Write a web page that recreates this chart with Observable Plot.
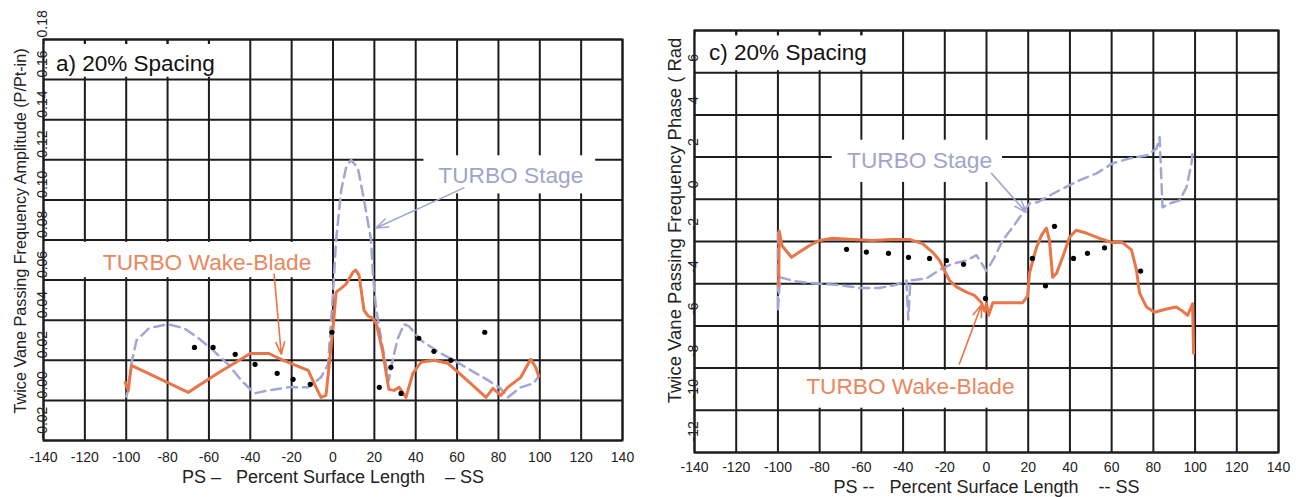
<!DOCTYPE html>
<html>
<head>
<meta charset="utf-8">
<script src="https://cdn.jsdelivr.net/npm/d3@7"></script>
<script src="https://cdn.jsdelivr.net/npm/@observablehq/plot@0.6"></script>
<style>
  html, body { margin: 0; padding: 0; background: #fff; }
  #wrap { position: relative; width: 1296px; height: 497px; overflow: hidden; }
  #left, #right { position: absolute; top: 0; }
  #left { left: 0; }
  #right { left: 648px; }
</style>
</head>
<body>
<div id="wrap"><div id="left"></div><div id="right"></div></div>
<script>
// ---------- shared ----------
const xTicks = [-140, -120, -100, -80, -60, -40, -20, 0, 20, 40, 60, 80, 100, 120, 140];
const xTickLabels = xTicks.map(String);

// ---------- panel a) amplitude ----------
const ampTicks = [-0.02, 0, 0.02, 0.04, 0.06, 0.08, 0.10, 0.12, 0.14, 0.16, 0.18];
const ampTickLabels = ["-0.02", "0.00", "0.02", "0.04", "0.06", "0.08", "0.10", "0.12", "0.14", "0.16", "0.18"];

const ampWakeBlade = [
  [-100.5, 0.009], [-99, 0.005], [-97.5, 0.0175], [-70, 0.004], [-55, 0.014], [-40, 0.0234],
  [-31, 0.0234], [-24, 0.020], [-12, 0.015], [-8.2, 0.0065], [-5.8, 0.0015], [-3.4, 0.0025],
  [0, 0.036], [1.5, 0.054], [4, 0.056], [6.3, 0.058], [9.7, 0.064], [11, 0.065], [12.6, 0.0625],
  [15, 0.045], [17, 0.042], [19.3, 0.041], [21, 0.038], [24, 0.0245], [27, 0.0055], [29.5, 0.005],
  [32, 0.0065], [35.3, 0.0015], [38.6, 0.0135], [42.5, 0.019], [48.8, 0.020], [55.6, 0.0185],
  [63.3, 0.0115], [74, 0.0015], [77.3, 0.006], [81.2, 0.0025], [84.5, 0.0065], [90.8, 0.0115],
  [95.6, 0.0205], [98, 0.0165], [99.5, 0.012]
];
const ampStage = [
  [-100, 0.002], [-99, 0.005], [-97.6, 0.018], [-95, 0.030], [-89, 0.036], [-80, 0.038],
  [-72, 0.036], [-65, 0.031], [-57.5, 0.0245], [-50.7, 0.018], [-44.4, 0.010], [-38, 0.0035],
  [-31.4, 0.005], [-21.7, 0.0065], [-12, 0.0065], [-5.8, 0.0115], [-2.4, 0.018], [-1, 0.038],
  [0, 0.054], [1.5, 0.080], [4, 0.105], [6.3, 0.116], [8.7, 0.120], [12, 0.116], [15, 0.100],
  [18.4, 0.080], [19.3, 0.063], [20.8, 0.046], [24, 0.0265], [27, 0.010], [29, 0.021],
  [31.4, 0.031], [34.3, 0.038], [36.7, 0.037], [42.5, 0.030], [52, 0.0235], [58.5, 0.020],
  [66.7, 0.015], [75, 0.010], [81, 0.006], [84.5, 0.0015], [90.8, 0.0065], [97, 0.0085], [99.5, 0.012]
];
const ampExperiment = [
  [-67, 0.0264], [-58, 0.0264], [-47.3, 0.023], [-37.7, 0.018], [-27, 0.0135], [-19.3, 0.0105],
  [-11, 0.008], [-0.5, 0.034], [22.4, 0.0065], [28, 0.0165], [32.9, 0.0035], [41.5, 0.031],
  [48.8, 0.0245], [57, 0.020], [73.4, 0.034]
];

// ---------- panel c) phase ----------
const phaseTicks = [-12, -10, -8, -6, -4, -2, 0, 2, 4, 6, 8];
const phaseLabelTicks = [-12, -10, -8, -6, -4, -2, 0, 2, 4, 6];
const phaseTickLabels = phaseLabelTicks.map(String);

const phaseWakeBlade = [
  [-99.6, -4.1], [-99.4, -1.5], [-98, -2.2], [-93.5, -2.75], [-89.7, -2.5], [-85, -2.2],
  [-80, -1.95], [-73.9, -1.85], [-64, -1.9], [-54.7, -1.95], [-45, -1.9], [-37, -1.9],
  [-30.7, -2.1], [-25.9, -2.5], [-22.5, -2.9], [-20, -3.4], [-17.7, -3.85], [-14.4, -4.15],
  [-9.6, -4.4], [-5.8, -4.55], [-2.4, -4.9], [-1, -5.3], [0, -4.95], [1, -5.5], [3, -4.9],
  [9.6, -4.9], [17.3, -4.9], [19.7, -4.6], [20.6, -3.5], [23.9, -2.3], [26.4, -1.7],
  [28.7, -1.37], [30.2, -1.95], [31.7, -3.7], [33.6, -3.5], [36.5, -2.75], [39.8, -1.8],
  [43, -1.47], [47.8, -1.6], [54.2, -1.85], [60.4, -2.05], [65.2, -2.05], [69.5, -2.4],
  [71.9, -3.35], [73.4, -4.45], [76.7, -5.1], [80.6, -5.35], [86.3, -5.2], [91, -5.1],
  [94, -5.3], [96.4, -5.5], [98.8, -4.95], [99.3, -7.3]
];
const phaseStage = [
  [-100, -1.6], [-100, -5.3], [-99, -3.7], [-91, -3.9], [-80, -4.0], [-72, -4.05], [-61, -4.2],
  [-51.3, -4.2], [-43.2, -4.05], [-38.4, -3.85], [-37.5, -5.7], [-36.5, -3.85], [-28.8, -3.75],
  [-22.5, -3.35], [-16.3, -3.05], [-9.6, -2.9], [-4.8, -2.65], [0, -3.4], [3.8, -2.75],
  [7.7, -1.95], [12.5, -1.33], [17.3, -0.66], [20.6, -0.2], [24.5, -0.14], [28.8, 0.1],
  [35, 0.43], [44.6, 0.9], [52.8, 1.23], [60.4, 1.7], [68.6, 1.94], [76.7, 2.08], [81.5, 2.4],
  [83, 2.94], [84.4, -0.38], [87.8, -0.2], [92.6, -0.05], [95.9, 0.57], [98.3, 1.7], [98.8, 2.18]
];
const phaseExperiment = [
  [-67.1, -2.37], [-57.6, -2.5], [-47, -2.56], [-37.4, -2.75], [-27.3, -2.8], [-19.2, -2.9],
  [-11, -3.08], [-0.5, -4.7], [22, -2.8], [28.3, -4.1], [32.6, -1.28], [41.7, -2.8],
  [48.4, -2.56], [56.6, -2.3], [73.9, -3.4]
];

// ---------- styling ----------
const FONT = "Liberation Sans, Arial, Helvetica, sans-serif";
const ORANGE = "#e8764a";
const ORANGE_TXT = "#e9875e";
const LAV = "#a3a6d4";
const LAV_TXT = "#a2a4cc";
const GRID = "#1c1c1c";
const topTickXs = [-120, -100, -80, -60];

function panel(cfg) {
  const yLo = cfg.yDomain[0];
  const yHi = cfg.yDomain[1];
  return Plot.plot({
    width: 648, height: 497,
    marginLeft: cfg.ml, marginRight: cfg.mr, marginTop: cfg.mt, marginBottom: cfg.mb,
    x: {domain: [-140, 140], axis: null},
    y: {domain: cfg.yDomain, axis: null},
    style: {fontFamily: FONT, background: "transparent", overflow: "visible"},
    marks: [
      Plot.ruleX(xTicks, {x: d => d, stroke: GRID, strokeWidth: 2}),
      Plot.ruleY(cfg.yGrid, {y: d => d, stroke: GRID, strokeWidth: 2}),
      // white label boxes over the grid
      Plot.rect(cfg.boxes, {x1: d => d.x1, x2: d => d.x2, y1: d => d.y1, y2: d => d.y2, fill: "#ffffff"}),
      // short top ticks left visible above the panel-title box
      Plot.ruleX(topTickXs, {x: d => d, y1: yHi, y2: cfg.topTickEnd, stroke: GRID, strokeWidth: 2}),
      Plot.frame({stroke: GRID, strokeWidth: 2}),
      Plot.line(cfg.stage, {x: d => d[0], y: d => d[1], stroke: LAV, strokeWidth: 2.5, strokeDasharray: "10,6"}),
      Plot.line(cfg.wake, {x: d => d[0], y: d => d[1], stroke: ORANGE, strokeWidth: 3}),
      Plot.dot(cfg.exp, {x: d => d[0], y: d => d[1], r: 2.6, fill: "#000", stroke: "none"}),
      Plot.arrow(cfg.arrows, {x1: d => d.x1, y1: d => d.y1, x2: d => d.x2, y2: d => d.y2, stroke: d => d.c, strokeWidth: 1.6, headLength: 12, headAngle: 40}),
      // y tick labels (rotated, reading upward)
      Plot.text(cfg.yLabelTicks, {x: -140, y: d => d, text: (d, i) => cfg.yLabels[i], rotate: -90,
        textAnchor: "start", dy: cfg.labelDy, dx: -1, fontSize: 14, fill: "#222"}),
      // x tick labels
      Plot.text(xTicks, {x: d => d, y: yLo, text: (d, i) => xTickLabels[i], dy: cfg.xLabDy, fontSize: 14, fill: "#222"}),
      // x title
      Plot.text([cfg.xTitle], {x: 0, y: yLo, text: d => d, dy: cfg.xTitleDy, fontSize: 18, fill: "#222"}),
      // y title
      Plot.text([cfg.yTitle], {x: -140, y: cfg.yTitleY, text: d => d, rotate: -90, textAnchor: "start",
        dx: cfg.yTitleDx, fontSize: cfg.yTitleSize, fill: "#222"}),
      // annotations
      Plot.text([cfg.panelTitle], {x: d => d.x, y: d => d.y, text: d => d.t, fill: "#111", textAnchor: "start", fontSize: 22.5}),
      Plot.text(cfg.notes, {x: d => d.x, y: d => d.y, text: d => d.t, fill: d => d.c, textAnchor: "middle", fontSize: 22.7})
    ]
  });
}

const left = panel({
  ml: 43, mr: 26, mt: 39, mb: 57,
  yDomain: [-0.02, 0.18],
  yGrid: ampTicks,
  yLabelTicks: ampTicks, yLabels: ampTickLabels, labelDy: -2,
  xLabDy: 17, xTitleDy: 37,
  xTitle: "PS \u2013   Percent Surface Length    \u2013 SS",
  yTitle: "Twice Vane Passing Frequency Amplitude (P/Pt-in)",
  yTitleY: -0.0065, yTitleDx: -23, yTitleSize: 16.2,
  topTickEnd: 0.1775,
  boxes: [
    {x1: -139.3, x2: -41, y1: 0.1612, y2: 0.1775},
    {x1: -139.3, x2: -1, y1: 0.0612, y2: 0.0788},
    {x1: 44, x2: 127, y1: 0.103, y2: 0.122}
  ],
  stage: ampStage, wake: ampWakeBlade, exp: ampExperiment,
  arrows: [
    {x1: -28.5, y1: 0.063, x2: -25, y2: 0.023, c: ORANGE},
    {x1: 63.3, y1: 0.106, x2: 20.8, y2: 0.086, c: LAV}
  ],
  panelTitle: {x: -134, y: 0.168, t: "a) 20% Spacing"},
  notes: [
    {x: -60.9, y: 0.0688, t: "TURBO Wake-Blade", c: ORANGE_TXT},
    {x: 86, y: 0.112, t: "TURBO Stage", c: LAV_TXT}
  ]
});

const right = panel({
  ml: 46, mr: 18, mt: 30, mb: 45,
  yDomain: [-12, 8],
  yGrid: phaseTicks,
  yLabelTicks: phaseLabelTicks, yLabels: phaseTickLabels, labelDy: -11,
  xLabDy: 15, xTitleDy: 35,
  xTitle: "PS --   Percent Surface Length    -- SS",
  yTitle: "Twice Vane Passing Frequency Phase ( Rad",
  yTitleY: -9.67, yTitleDx: -19, yTitleSize: 18.5,
  topTickEnd: 7.75,
  boxes: [
    {x1: -139.3, x2: -41, y1: 6.1, y2: 7.75},
    {x1: -74, x2: 7.7, y1: 0.8, y2: 2.8},
    {x1: -99, x2: 19, y1: -9.9, y2: -8.1}
  ],
  stage: phaseStage, wake: phaseWakeBlade, exp: phaseExperiment,
  arrows: [
    {x1: 2.4, y1: 1.23, x2: 19, y2: -0.62, c: LAV},
    {x1: -13, y1: -7.8, x2: -2.4, y2: -5.0, c: ORANGE}
  ],
  panelTitle: {x: -133, y: 6.92, t: "c) 20% Spacing"},
  notes: [
    {x: -32.1, y: 1.85, t: "TURBO Stage", c: LAV_TXT},
    {x: -36.5, y: -8.9, t: "TURBO Wake-Blade", c: ORANGE_TXT}
  ]
});

document.getElementById("left").appendChild(left);
document.getElementById("right").appendChild(right);
</script>
</body>
</html>
